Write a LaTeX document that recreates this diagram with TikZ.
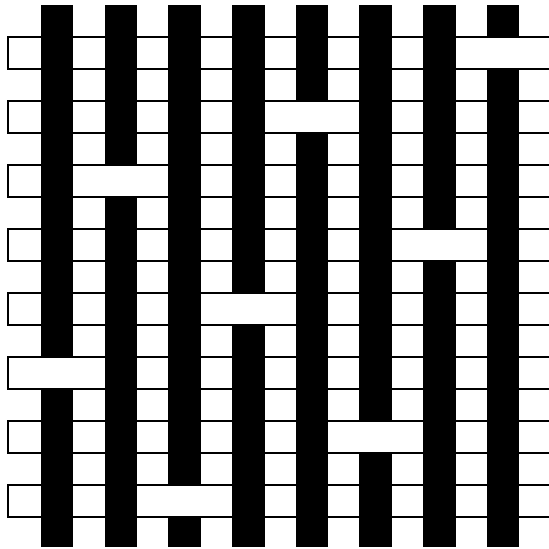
\documentclass[tikz,border=0pt]{standalone}
\usetikzlibrary{calc}
\tikzset{
  weft/.style={draw=black, line width=0.6pt, fill=white},
  warp/.style={fill=black},
  float/.style={fill=white},
  edge/.style={draw=black, line width=0.6pt},
}
\begin{document}
\begin{tikzpicture}[x=0.02cm, y=-0.02cm]
\useasboundingbox (0,0) rectangle (549,549);
% weft bands, closed on the left, open on the right
\foreach \i in {0,...,7}{
  \pgfmathsetmacro{\wy}{37+64*\i}
  \draw[weft] (549,\wy) -- (8,\wy) -- (8,\wy+32) -- (549,\wy+32);
}
% warp stripes
\foreach \j in {0,...,7}{
  \pgfmathsetmacro{\wx}{41+63.7*\j}
  \fill[warp] (\wx,5) rectangle (\wx+32.5,547);
}
% weft floats over the warp (row/stripe)
\foreach \i/\j in {0/7,1/4,2/1,3/6,4/3,5/0,6/5,7/2}{
  \pgfmathsetmacro{\wy}{37+64*\i}
  \pgfmathsetmacro{\wx}{41+63.7*\j}
  \fill[float] (\wx-0.5,\wy) rectangle (\wx+33,\wy+32);
  \draw[edge] (\wx-1,\wy) -- (\wx+33.5,\wy)
              (\wx-1,\wy+32) -- (\wx+33.5,\wy+32);
}
\end{tikzpicture}
\end{document}
